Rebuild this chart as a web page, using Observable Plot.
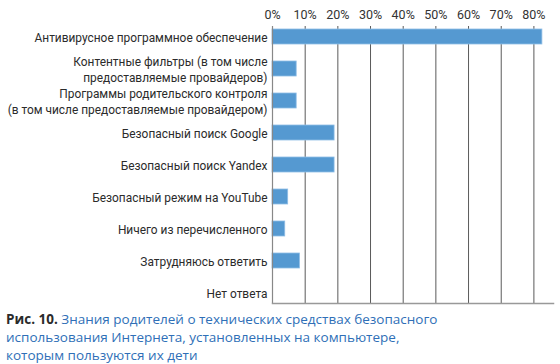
<!DOCTYPE html>
<html>
<head>
<meta charset="utf-8">
<script src="https://cdn.jsdelivr.net/npm/d3@7"></script>
<script src="https://cdn.jsdelivr.net/npm/@observablehq/plot@0.6"></script>
<style>
  body { margin: 0; background: #fff; font-family: "Open Sans", sans-serif; }
  #chart svg { display: block; }
  #caption { margin: 2px 0 0 6px; font-size: 13.5px; line-height: 18px; color: #2f6fb7; }
  #caption b { color: #2b2b2b; }
</style>
</head>
<body>
<div id="chart"></div>
<div id="caption"><b>Рис. 10.</b> Знания родителей о технических средствах безопасного<br>использования Интернета, установленных на компьютере,<br>которым пользуются их дети</div>
<script>
const categories = [
  "Антивирусное программное обеспечение",
  "Контентные фильтры (в том числе\nпредоставляемые провайдеров)",
  "Программы родительского контроля\n(в том числе предоставляемые провайдером)",
  "Безопасный поиск Google",
  "Безопасный поиск Yandex",
  "Безопасный режим на YouTube",
  "Ничего из перечисленного",
  "Затрудняюсь ответить",
  "Нет ответа"
];
const values = [82.6, 7.4, 7.4, 19.0, 19.0, 4.8, 3.9, 8.4, 0];
const tickValues = [0, 10, 20, 30, 40, 50, 60, 70, 80];

const data = categories.map((c, i) => ({category: c, value: values[i]}));

const chart = Plot.plot({
  width: 560,
  height: 308,
  marginLeft: 272,
  marginRight: 7,
  marginTop: 26,
  marginBottom: 5,
  style: {fontFamily: "Roboto, sans-serif", fontSize: "12px", color: "#2b2b2b"},
  x: {domain: [0, 86], axis: null, label: null},
  y: {domain: categories, axis: null, label: null, padding: 0.54, paddingOuter: 0.0},
  marks: [
    Plot.ruleX(tickValues, {stroke: "#5a5a5a", strokeWidth: 1}),
    Plot.axisX(tickValues, {anchor: "top", label: null, tickSize: 0, tickPadding: 8, tickFormat: d => d + "%", fontSize: "12.5px", fill: "#333"}),
    Plot.barX(data, {x: "value", y: "category", fill: "#5599d1", stroke: "#8fbde6", strokeWidth: 0.8}),
    Plot.ruleX([0], {stroke: "#888", strokeWidth: 1.2}),
    Plot.frame({anchor: "bottom", stroke: "#999", strokeWidth: 1.5}),
    Plot.axisY({anchor: "left", label: null, tickSize: 0, tickPadding: 5, fontSize: "11.9px", fill: "#2b2b2b", lineHeight: 1.3})
  ]
});
document.getElementById("chart").append(chart);
</script>
</body>
</html>
